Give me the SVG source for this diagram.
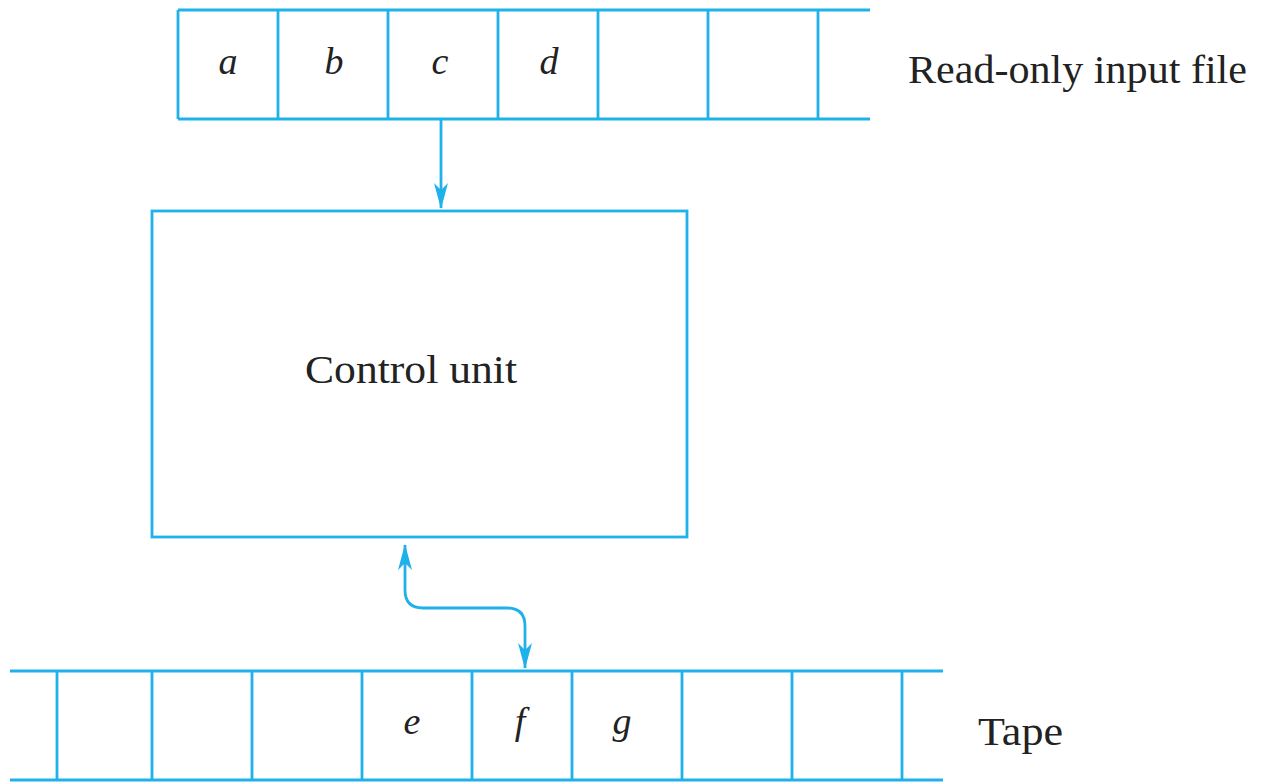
<svg xmlns="http://www.w3.org/2000/svg" width="1262" height="782" viewBox="0 0 1262 782">
<defs>
<style>
.ln{stroke:#1fb1ea;stroke-width:2.8;fill:none}
.cell{font-family:"Liberation Serif",serif;font-style:italic;font-size:38px;fill:#222;text-anchor:middle}
.lbl{font-family:"Liberation Serif",serif;font-size:39px;fill:#222}
</style>
<marker id="ah2" viewBox="0 0 26 14" refX="25" refY="7" markerWidth="26" markerHeight="14" markerUnits="userSpaceOnUse" orient="auto-start-reverse">
<path d="M0,0 L7,7 L0,14 L26,7 Z" fill="#1fb1ea"/>
</marker>
</defs>
<rect width="1262" height="782" fill="#fff"/>
<g id="input-file">
<path class="ln" d="M178,10 H870 M178,119 H870 M178,10 V119 M278,10 V119 M388,10 V119 M498,10 V119 M598,10 V119 M708,10 V119 M818,10 V119"/>
<text class="cell" x="228" y="74">a</text>
<text class="cell" x="334" y="74">b</text>
<text class="cell" x="440" y="74">c</text>
<text class="cell" x="549" y="74">d</text>
<text class="lbl" x="908" y="83" textLength="339" lengthAdjust="spacingAndGlyphs">Read-only input file</text>
</g>
<g id="control-unit">
<rect class="ln" x="152" y="211" width="535" height="326"/>
<text class="lbl" x="305" y="383" textLength="212" lengthAdjust="spacingAndGlyphs">Control unit</text>
</g>
<g id="tape">
<path class="ln" d="M10,671 H943 M10,780 H943 M57,671 V780 M152,671 V780 M252,671 V780 M362,671 V780 M472,671 V780 M572,671 V780 M682,671 V780 M792,671 V780 M902,671 V780"/>
<text class="cell" x="412" y="734">e</text>
<text class="cell" x="520" y="734">f</text>
<text class="cell" x="622" y="734">g</text>
<text class="lbl" x="978" y="745" textLength="85" lengthAdjust="spacingAndGlyphs">Tape</text>
</g>
<g id="connectors">
<path class="ln" d="M441,119 V208" marker-end="url(#ah2)"/>
<path class="ln" d="M405,545 V590 Q405,608 423,608 H507 Q525,608 525,626 V668" marker-start="url(#ah2)" marker-end="url(#ah2)"/>
</g>
</svg>
